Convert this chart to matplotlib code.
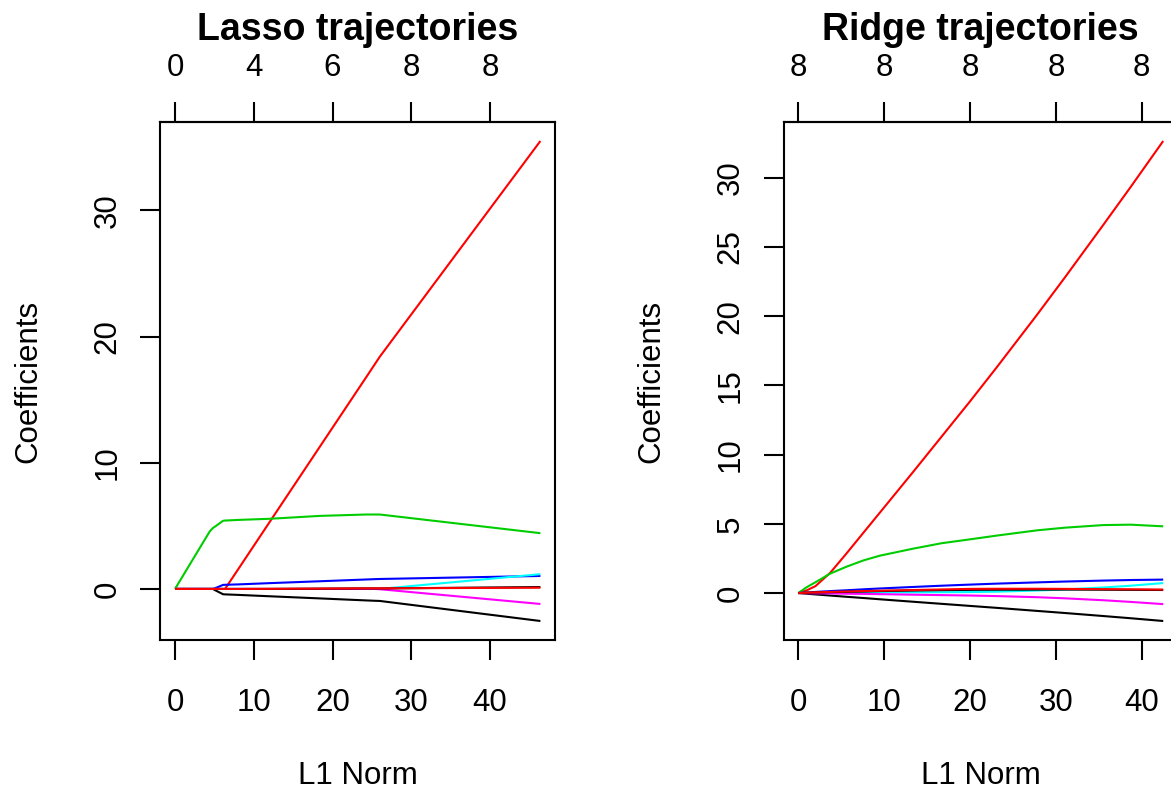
import matplotlib
matplotlib.use("Agg")
import matplotlib.pyplot as plt

plt.rcParams['font.family'] = ['Liberation Sans', 'DejaVu Sans']

# lasso path: L1 norm of the fit and the 8 coefficients along it
lasso_l1 = [0, 4.4, 4.8, 5.1, 6.1, 6.35, 8, 12, 18.4, 24.3, 25.5, 26, 46.4]
lasso_x1 = [0, 0, 0, -0.1, -0.42, -0.43, -0.47, -0.58, -0.75, -0.91, -0.94, -0.95, -2.54]
lasso_x2 = [0, 0, 0, 0, 0, 0, 1.54, 5.29, 11.28, 16.8, 17.93, 18.4, 35.5]
lasso_x3 = [0, 4.55, 4.82, 4.95, 5.4, 5.42, 5.47, 5.56, 5.79, 5.9, 5.9, 5.9, 4.42]
lasso_x4 = [0, 0, 0, 0.06, 0.32, 0.33, 0.36, 0.46, 0.61, 0.75, 0.78, 0.79, 1.03]
lasso_x5 = [0, 0, 0, 0, 0, 0, 0, 0, 0, 0, 0, 0, 1.17]
lasso_x6 = [0, 0, 0, 0, 0, 0, 0, 0, 0, 0, 0, -0.02, -1.19]
lasso_x7 = [0, 0, 0, 0, 0, 0, 0, 0, 0.02, 0.04, 0.04, 0.04, 0.15]
lasso_x8 = [0, 0, 0, 0, 0, 0, 0, 0.01, 0.03, 0.05, 0.05, 0.05, 0.1]
lasso_df = ["0", "4", "6", "8", "8"]

# ridge path
ridge_l1 = [0, 1, 2, 3.7, 5.6, 7.6, 9.5, 13.4, 16.7, 20, 23.1, 27.8, 31, 35.5, 38.7, 42.5]
ridge_x1 = [0, -0.05, -0.1, -0.18, -0.27, -0.36, -0.45, -0.63, -0.78, -0.93, -1.07, -1.29, -1.44, -1.66, -1.82, -2.02]
ridge_x2 = [0, 0.2, 0.5, 1.45, 2.85, 4.37, 5.81, 8.77, 11.31, 13.85, 16.3, 20.1, 22.76, 26.58, 29.33, 32.66]
ridge_x3 = [0, 0.43, 0.78, 1.4, 1.9, 2.36, 2.7, 3.21, 3.6, 3.88, 4.15, 4.53, 4.72, 4.91, 4.94, 4.82]
ridge_x4 = [0, 0.04, 0.08, 0.14, 0.2, 0.27, 0.33, 0.44, 0.53, 0.61, 0.68, 0.77, 0.83, 0.9, 0.94, 0.97]
ridge_x5 = [0, 0.01, 0.01, 0.02, 0.03, 0.03, 0.04, 0.05, 0.06, 0.07, 0.1, 0.18, 0.26, 0.4, 0.53, 0.72]
ridge_x6 = [0, -0.01, -0.02, -0.03, -0.05, -0.06, -0.08, -0.12, -0.15, -0.18, -0.22, -0.3, -0.38, -0.52, -0.64, -0.8]
ridge_x7 = [0, 0.02, 0.04, 0.06, 0.09, 0.11, 0.14, 0.18, 0.21, 0.23, 0.24, 0.25, 0.25, 0.24, 0.23, 0.22]
ridge_x8 = [0, 0.03, 0.05, 0.08, 0.11, 0.14, 0.17, 0.22, 0.26, 0.3, 0.31, 0.31, 0.3, 0.28, 0.27, 0.25]
ridge_df = ["8", "8", "8", "8", "8"]

xticks = [0, 10, 20, 30, 40]
colors = ["black", "#FF0000", "#00CD00", "#0000FF", "#00FFFF", "#FF00FF", "black", "#FF0000"]

FS = 22.5
LW = 1.5
TICKLEN = 14.4

W, H = 1171, 788
fig = plt.figure(figsize=(W / 100, H / 100), dpi=100)


def panel(left_px, right_px, title, l1, coefs, yticks, df):
    top_px, bot_px = 121.8, 640.2
    ax = fig.add_axes([left_px / W, 1 - bot_px / H, (right_px - left_px) / W, (bot_px - top_px) / H])
    for c, col in zip(coefs, colors):
        ax.plot(l1, c, color=col, lw=LW, solid_capstyle='butt')
    ax.margins(0.04)
    ax.set_xticks(xticks)
    ax.set_yticks(yticks)
    for s in ax.spines.values():
        s.set_linewidth(LW)
    ax.tick_params(axis='x', length=TICKLEN, width=LW, pad=20, labelsize=FS)
    ax.tick_params(axis='y', length=TICKLEN, width=LW, pad=13, labelsize=FS)
    plt.setp(ax.get_yticklabels(), rotation=90, va='center')
    ax.set_xlabel("L1 Norm", fontsize=FS, labelpad=31)
    ax.set_ylabel("Coefficients", fontsize=FS, labelpad=35.5)
    sec = ax.secondary_xaxis('top')
    sec.set_xticks(xticks, labels=df)
    sec.tick_params(length=TICKLEN, width=LW, pad=13.5, labelsize=FS)
    sec.spines['top'].set_linewidth(LW)
    ax.set_title(title, fontsize=27, fontweight='bold', y=1.158, pad=0)
    return ax


panel(160.4, 555.0, "Lasso trajectories", lasso_l1,
      [lasso_x1, lasso_x2, lasso_x3, lasso_x4, lasso_x5, lasso_x6, lasso_x7, lasso_x8],
      [0, 10, 20, 30], lasso_df)
panel(783.7, 1177.8, "Ridge trajectories", ridge_l1,
      [ridge_x1, ridge_x2, ridge_x3, ridge_x4, ridge_x5, ridge_x6, ridge_x7, ridge_x8],
      [0, 5, 10, 15, 20, 25, 30], ridge_df)

fig.savefig("out.png", dpi=100)
